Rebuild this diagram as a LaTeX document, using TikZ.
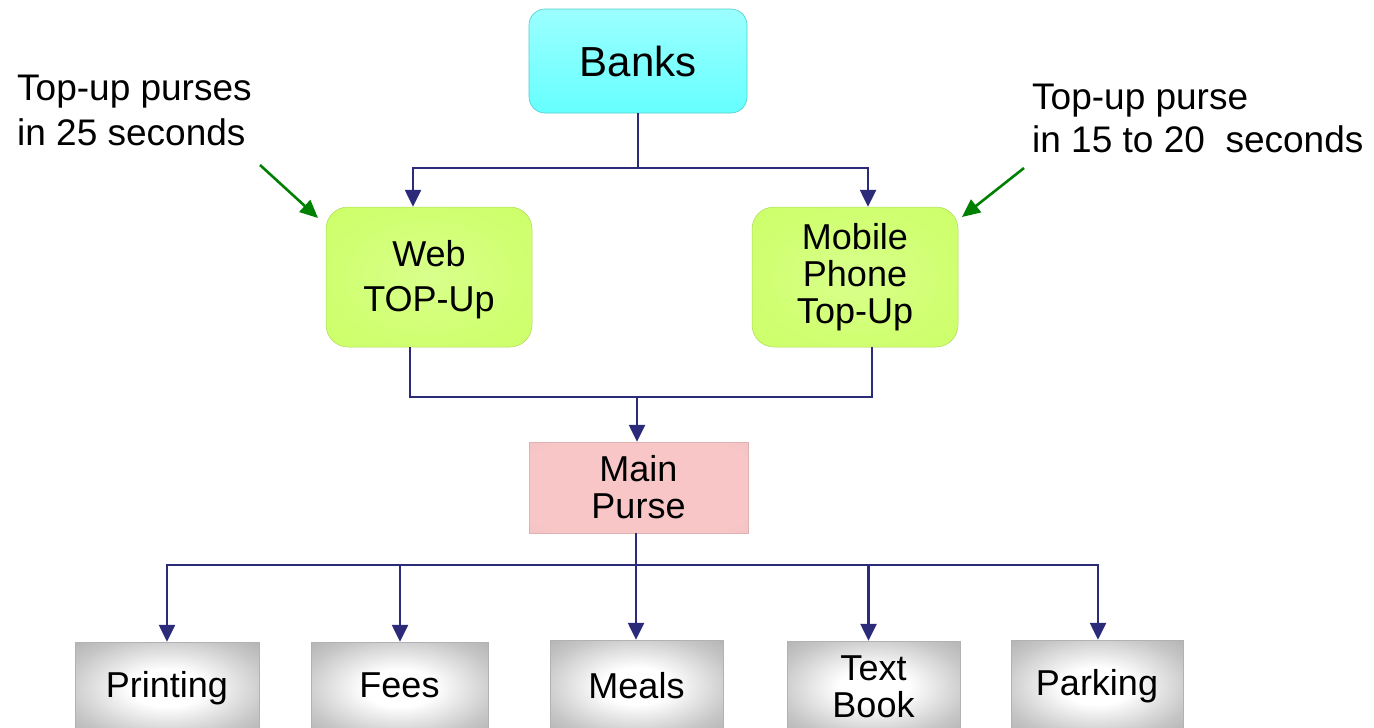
\documentclass[tikz,border=0pt]{standalone}
\usepackage{fontspec}
\setmainfont{Liberation Sans}
\usetikzlibrary{arrows.meta,calc}
\definecolor{navy}{RGB}{43,43,122}
\definecolor{cyanbox}{RGB}{102,255,255}
\definecolor{limebox}{RGB}{204,255,102}
\definecolor{pinkbox}{RGB}{248,198,198}
\definecolor{arrgreen}{RGB}{0,128,0}
\pgfdeclareradialshading{bevelgray}{\pgfpoint{0bp}{0bp}}{color(0bp)=(white); color(10bp)=(white); color(28bp)=(gray!45); color(42bp)=(gray!70); color(50bp)=(gray!85)}
\pgfdeclareradialshading{bevellime}{\pgfpoint{0bp}{0bp}}{color(0bp)=(limebox!75); color(22bp)=(limebox!92); color(40bp)=(limebox); color(50bp)=(limebox!92!black)}
\pgfdeclareradialshading{bevelpink}{\pgfpoint{0bp}{0bp}}{color(0bp)=(pinkbox); color(30bp)=(pinkbox); color(45bp)=(pinkbox!95!black); color(50bp)=(pinkbox!85!black)}
\tikzset{
  conn/.style={draw=navy, line width=2.6pt, -{Triangle[length=17pt,width=16pt]}},
  plain/.style={draw=navy, line width=2.6pt},
  greenarr/.style={draw=arrgreen, line width=2.6pt, -{Triangle[length=18pt,width=16pt]}},
  boxtext/.style={font=\fontsize{36}{37}\selectfont, align=center, inner sep=0pt},
  bankbox/.style={rounded corners=16pt, top color=cyanbox!65, bottom color=cyanbox, draw=cyanbox!80!black, line width=0.6pt, minimum width=218pt, minimum height=104pt, font=\fontsize{42}{44}\selectfont, inner sep=0pt},
  limebox/.style={rounded corners=22pt, shading=bevellime, draw=limebox!85!black, line width=0.5pt, minimum width=206pt, minimum height=140pt, boxtext},
  pinkbox/.style={shading=bevelpink, draw=pinkbox!90!black, line width=0.5pt, minimum width=219pt, minimum height=91pt, boxtext},
  graybox/.style={shading=bevelgray, draw=gray!60, line width=0.5pt, minimum height=92pt, boxtext},
  note/.style={font=\fontsize{37}{45}\selectfont, align=left, inner sep=0pt, anchor=north west}
}
\begin{document}
\begin{tikzpicture}[x=1pt,y=-1pt]
\useasboundingbox (0,0) rectangle (1374,728);
\clip (0,0) rectangle (1374,728);
% boxes
\node[bankbox] (banks) at (638,61) {Banks};
\node[limebox] (web) at (429,277) {\raisebox{-10.5pt}[0pt][0pt]{\renewcommand\arraystretch{1}\begin{tabular}{@{}c@{}}Web\\[8pt]TOP-Up\end{tabular}}};
\node[limebox] (mobile) at (855,277) {Mobile\\Phone\\Top-Up};
\node[pinkbox] (main) at (638.5,487.5) {Main\\Purse};
\node[graybox, minimum width=184pt] (printing) at (167,688) {Printing};
\node[graybox, minimum width=177pt] (fees) at (399.5,688) {\raisebox{6pt}{Fees}};
\node[graybox, minimum width=173pt] (meals) at (636.5,686) {Meals};
\node[graybox, minimum width=173pt] (textbook) at (873.5,687) {\fontsize{36}{32}\selectfont Text\\Book};
\node[graybox, minimum width=172pt] (parking) at (1097,686) {Parking};
% notes
\node[note] (n1) at (17,75) {Top-up purses\\in 25 seconds};
\node[note, font=\fontsize{37}{43}\selectfont] (n2) at (1032,84) {Top-up purse\\in 15 to 20~ seconds};
\coordinate (g1) at (260,165);
\coordinate (g2) at (1024,168);
\draw[greenarr] (g1) -- (318,218);
\draw[greenarr] (g2) -- (962,217);
% banks to top-up
\coordinate (j1) at (638,168);
\draw[plain] (banks.south) -- (j1);
\draw[conn] (j1) -| ([xshift=-16pt]web.north);
\draw[conn] (j1) -| ([xshift=13pt]mobile.north);
% top-up to main
\coordinate (j2) at (637,397);
\draw[plain] ([xshift=-19pt]web.south) |- (j2);
\draw[plain] ([xshift=17pt]mobile.south) |- (j2);
\draw[conn] (j2) -- (main.north -| j2);
% main to bottom
\coordinate (j3) at (636,565);
\draw[plain] (main.south -| j3) -- (j3);
\draw[conn] (j3) -| (printing.north);
\draw[conn] (j3) -| ([xshift=0.5pt]fees.north);
\draw[conn] (j3) -- (meals.north -| j3);
\draw[conn] (j3) -| ([xshift=-5pt]textbook.north);
\draw[conn] (j3) -| ([xshift=1pt]parking.north);
\end{tikzpicture}
\end{document}
